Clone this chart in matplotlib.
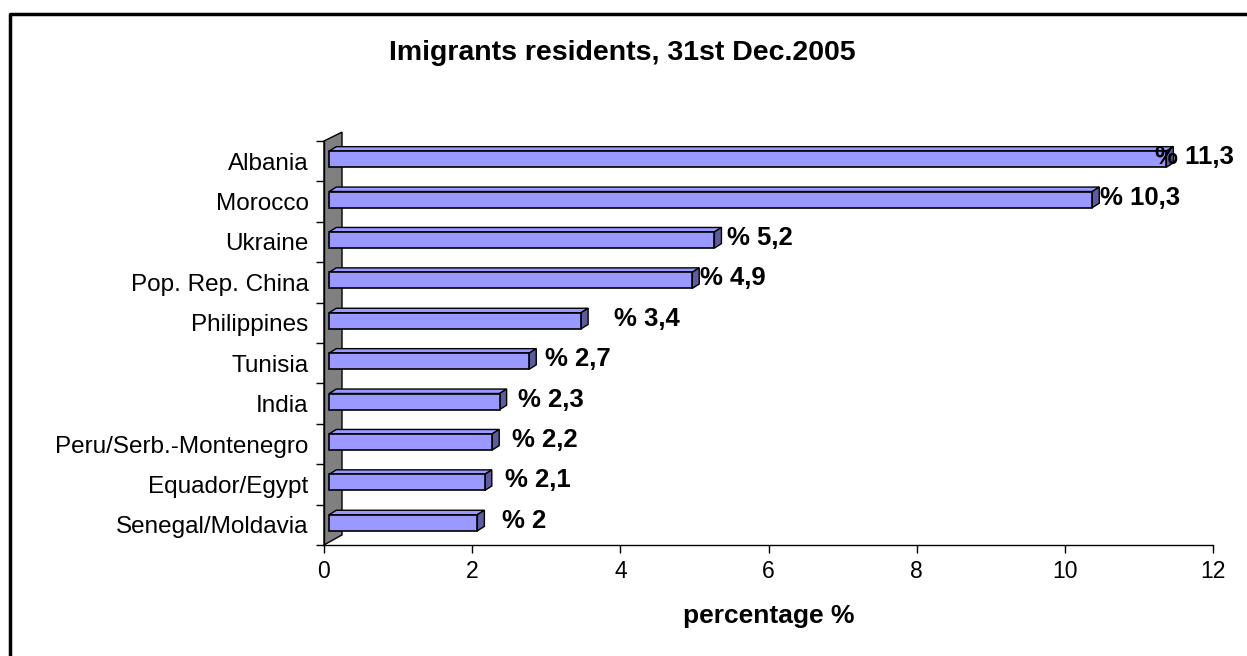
import matplotlib
matplotlib.use("Agg")
import matplotlib.pyplot as plt
from matplotlib.patches import Polygon, Rectangle
from matplotlib.lines import Line2D

plt.rcParams['font.family'] = ['Liberation Sans', 'DejaVu Sans']

countries = ['Albania', 'Morocco', 'Ukraine', 'Pop. Rep. China', 'Philippines',
             'Tunisia', 'India', 'Peru/Serb.-Montenegro', 'Equador/Egypt', 'Senegal/Moldavia']
shares = [11.3, 10.3, 5.2, 4.9, 3.4, 2.7, 2.3, 2.2, 2.1, 2.0]
labels = ['% 11,3', '% 10,3', '% 5,2', '% 4,9', '% 3,4', '% 2,7', '% 2,3', '% 2,2', '% 2,1', '% 2']

FRONT = '#9999FF'
SIDE = '#5C5C9E'
WALL = '#808080'

fig = plt.figure(figsize=(12.47, 6.56), dpi=100)
ax = fig.add_axes([324 / 1247, 1 - 545 / 656, (1213 - 324) / 1247, (545 - 141) / 656])

n = len(countries)
ax.set_xlim(0, 12)
ax.set_ylim(n - 0.5, -0.5)

# grey 3-D side wall
wall = Polygon([(0, n - 0.5), (0, -0.5), (0.243, -0.72), (0.243, n - 0.75)],
               closed=True, facecolor=WALL, edgecolor='black', lw=1, zorder=1, clip_on=False)
ax.add_patch(wall)

x0, dx, dy, h = 0.07, 0.095, 0.11, 0.40
nudge = [-0.08, 0.17, 0.24, 0.18, 0.51, 0.28, 0.32, 0.34, 0.34, 0.40]
for i, (v, lab) in enumerate(zip(shares, labels)):
    yc = i - 0.05
    yt, yb = yc - h / 2, yc + h / 2
    top = Polygon([(x0, yt), (x0 + dx, yt - dy), (x0 + v + dx, yt - dy), (x0 + v, yt)],
                  closed=True, facecolor=FRONT, edgecolor='black', lw=1, zorder=3, clip_on=False)
    side = Polygon([(x0 + v, yb), (x0 + v + dx, yb - dy), (x0 + v + dx, yt - dy), (x0 + v, yt)],
                   closed=True, facecolor=SIDE, edgecolor='black', lw=1, zorder=3, clip_on=False)
    front = Rectangle((x0, yt), v, h, facecolor=FRONT, edgecolor='black', lw=1.2, zorder=4,
                      clip_on=False)
    ax.add_patch(top)
    ax.add_patch(side)
    ax.add_patch(front)
    ax.text(v + nudge[i], yc - 0.05, lab, fontsize=18.5, fontweight='bold', va='center', ha='left',
            zorder=5, clip_on=False)

ax.set_yticks(range(n))
ax.set_yticklabels(countries, fontsize=17.5)
ax.set_yticks([k - 0.5 for k in range(n + 1)], minor=True)
ax.tick_params(axis='y', which='major', length=0, pad=11)
ax.tick_params(axis='y', which='minor', length=6, width=1, direction='out')
ax.set_xticks(range(0, 13, 2))
ax.tick_params(axis='x', labelsize=16.5, length=6, width=1, direction='out', pad=5)
ax.set_xlabel('percentage %', fontsize=19, fontweight='bold', labelpad=15)

for s in ['top', 'right']:
    ax.spines[s].set_visible(False)
ax.spines['left'].set_linewidth(1)
ax.spines['bottom'].set_linewidth(1)
ax.set_facecolor('none')

fig.text(622 / 1247, 1 - 53 / 656, 'Imigrants residents, 31st Dec.2005', fontsize=20.5,
         fontweight='bold', ha='center', va='center')

# chart-area frame (left and top edges only, as cropped)
fig.add_artist(Line2D([9.5 / 1247, 9.5 / 1247, 1.0], [0.0, 1 - 13.5 / 656, 1 - 13.5 / 656],
                      transform=fig.transFigure, color='black', lw=2.5))

fig.savefig('out.png', dpi=100)
